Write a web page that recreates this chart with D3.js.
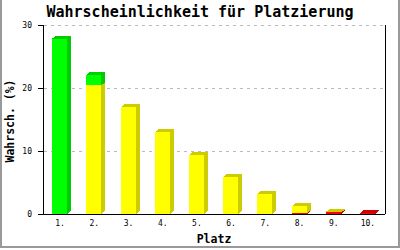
<!DOCTYPE html>
<html>
<head>
<meta charset="utf-8">
<script src="https://cdnjs.cloudflare.com/ajax/libs/d3/7.8.5/d3.min.js"></script>
<style>
  body { margin: 0; background: #fff; }
  text { font-family: "DejaVu Sans Mono", monospace; }
</style>
</head>
<body>
<div id="chart"></div>
<script>
// Daten: Platzierung und Wahrscheinlichkeit in Prozent, gestapelt
const platz = ['1.', '2.', '3.', '4.', '5.', '6.', '7.', '8.', '9.', '10.'];
const rot   = [0, 0, 0, 0, 0, 0, 0, 0.1, 0.25, 0.15];
const gelb  = [0, 20.4, 17.0, 13.0, 9.37, 5.87, 3.17, 1.17, 0.1, 0];
const gruen = [27.8, 1.65, 0, 0, 0, 0, 0, 0, 0, 0];
const yTicks = [0, 10, 20, 30];

const width = 400;
const height = 250;
const margin = { top: 25, right: 15, bottom: 36, left: 43 };

const colors = {
  rot:   { front: '#ff0000', dark: '#cc0000' },
  gelb:  { front: '#ffff00', dark: '#cccc00' },
  gruen: { front: '#00ff00', dark: '#00cc00' }
};

const rows = platz.map((p, i) => ({ platz: p, rot: rot[i], gelb: gelb[i], gruen: gruen[i] }));
const series = d3.stack().keys(['rot', 'gelb', 'gruen'])(rows);

const svg = d3.select('#chart')
  .append('svg')
  .attr('width', width)
  .attr('height', height);

const x = d3.scaleBand()
  .domain(platz)
  .range([margin.left, width - margin.right])
  .padding(0);

const y = d3.scaleLinear()
  .domain([0, 30])
  .range([height - margin.bottom, margin.top]);

// Rahmen
svg.append('rect')
  .attr('x', 1)
  .attr('y', -5)
  .attr('width', width - 2)
  .attr('height', height - 3 + 5 - 3 + 3)
  .attr('fill', 'none')
  .attr('stroke', '#999')
  .attr('stroke-width', 2);

// Gitterlinien
svg.append('g')
  .selectAll('line')
  .data(yTicks.filter(t => t > 0))
  .join('line')
  .attr('x1', margin.left + 1)
  .attr('x2', width - margin.right)
  .attr('y1', d => y(d) + 0.5)
  .attr('y2', d => y(d) + 0.5)
  .attr('stroke', '#bbb')
  .attr('stroke-dasharray', '3,4');

// Balken (3D)
const dx = 4, dy = 3, barW = 15;
const bars = svg.append('g').attr('shape-rendering', 'crispEdges');

platz.forEach((p, i) => {
  series.forEach(s => {
    const seg = s[i];
    if (seg[1] - seg[0] <= 0) return;
    const c = colors[s.key];
    const x0 = Math.round(x(p) + x.bandwidth() / 2 - 8);
    const x1 = x0 + barW;
    const yTop = y(seg[1]);
    const yBot = y(seg[0]);

    // Seite
    bars.append('polygon')
      .attr('points', [[x1, yBot], [x1 + dx, yBot - dy], [x1 + dx, yTop - dy], [x1, yTop]].join(' '))
      .attr('fill', c.dark);
    // Oberseite
    bars.append('polygon')
      .attr('points', [[x0, yTop], [x0 + dx, yTop - dy], [x1 + dx, yTop - dy], [x1, yTop]].join(' '))
      .attr('fill', c.dark);
    // Vorderseite
    bars.append('rect')
      .attr('x', x0)
      .attr('y', yTop)
      .attr('width', barW)
      .attr('height', Math.max(0, yBot - yTop))
      .attr('fill', c.front);
  });
});

// Achsen
const axes = svg.append('g').attr('stroke', '#000').attr('shape-rendering', 'crispEdges');
axes.append('line')
  .attr('x1', margin.left).attr('x2', margin.left)
  .attr('y1', y(30)).attr('y2', y(0));
axes.append('line')
  .attr('x1', width - margin.right).attr('x2', width - margin.right)
  .attr('y1', y(30)).attr('y2', y(0));
axes.append('line')
  .attr('x1', margin.left).attr('x2', width - margin.right)
  .attr('y1', y(0)).attr('y2', y(0));
axes.selectAll('.tick')
  .data(yTicks)
  .join('line')
  .attr('x1', margin.left - 5).attr('x2', margin.left)
  .attr('y1', d => y(d)).attr('y2', d => y(d));

// Y-Beschriftung
svg.append('g')
  .selectAll('text')
  .data(yTicks)
  .join('text')
  .attr('x', 32)
  .attr('y', d => y(d))
  .attr('dy', '0.35em')
  .attr('text-anchor', 'end')
  .attr('font-size', '8px')
  .text(d => d);

// X-Beschriftung
svg.append('g')
  .selectAll('text')
  .data(platz)
  .join('text')
  .attr('x', d => x(d) + x.bandwidth() / 2)
  .attr('y', 226)
  .attr('text-anchor', 'middle')
  .attr('font-size', '8px')
  .text(d => d);

// Titel
svg.append('text')
  .attr('x', width / 2)
  .attr('y', 17)
  .attr('text-anchor', 'middle')
  .attr('font-size', '15px')
  .attr('font-weight', 'bold')
  .text('Wahrscheinlichkeit für Platzierung');

svg.append('text')
  .attr('x', (margin.left + width - margin.right) / 2)
  .attr('y', 243)
  .attr('text-anchor', 'middle')
  .attr('font-size', '11.5px')
  .attr('font-weight', 'bold')
  .text('Platz');

svg.append('text')
  .attr('transform', 'rotate(-90)')
  .attr('x', -121)
  .attr('y', 14)
  .attr('text-anchor', 'middle')
  .attr('font-size', '11.5px')
  .attr('font-weight', 'bold')
  .text('Wahrsch. (%)');
</script>
</body>
</html>
